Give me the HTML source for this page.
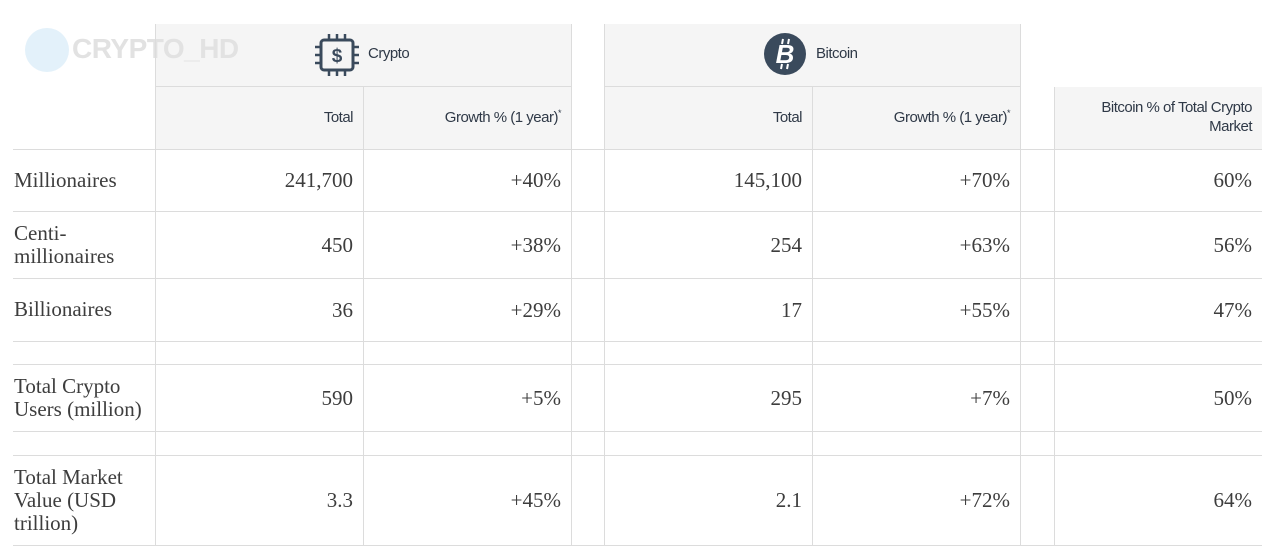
<!DOCTYPE html>
<html><head><meta charset="utf-8"><style>
html,body{margin:0;padding:0;background:#fff;width:1280px;height:553px;overflow:hidden;position:relative}
.a{position:absolute;box-sizing:border-box}
.hl{position:absolute;height:1px;background:#dcdcdc}
.vl{position:absolute;width:1px;background:#dcdcdc}
.hd{font-family:"Liberation Sans",sans-serif;font-size:15px;color:#2f3947;letter-spacing:-0.5px;text-align:right}
.sv{font-family:"Liberation Serif",serif;font-size:21px;color:#3d3d3d;text-align:right}
.lb{font-family:"Liberation Serif",serif;font-size:21px;color:#3d3d3d;line-height:23px}
.st{font-size:9px;position:relative;top:-6px;line-height:0}
</style></head><body>
<div id="root"></div>
<script>
const rowLabels=["Millionaires","Centi-<br>millionaires","Billionaires","","Total Crypto<br>Users (million)","","Total Market<br>Value (USD<br>trillion)"];
const cryptoTotal=["241,700","450","36","","590","","3.3"];
const cryptoGrowth=["+40%","+38%","+29%","","+5%","","+45%"];
const btcTotal=["145,100","254","17","","295","","2.1"];
const btcGrowth=["+70%","+63%","+55%","","+7%","","+72%"];
const btcShare=["60%","56%","47%","","50%","","64%"];
const rowY=[149,211,278,341,364,431,455,545];
const cols=[[155,363],[363,571],[604,812],[812,1020],[1054,1262]];
const root=document.getElementById('root');
function mk(cls,style,html){const d=document.createElement('div');d.className=cls;d.style.cssText=style;if(html!==undefined)d.innerHTML=html;root.appendChild(d);return d;}
let e;
e=mk('a','left:155px;top:24px;width:416px;height:125px;background:#f5f5f5');


e=mk('a','left:604px;top:24px;width:416px;height:125px;background:#f5f5f5');


e=mk('a','left:1054px;top:87px;width:208px;height:62px;background:#f5f5f5');


e=mk('a','left:25px;top:28px;width:44px;height:44px;border-radius:50%;background:#e3f1fa');


e=mk('a','left:72px;top:33px;font-family:"Liberation Sans",sans-serif;font-weight:bold;font-size:28px;color:#e2e2e2;letter-spacing:-0.5px','CRYPTO_HD');


e=mk('a','left:315px;top:34px;width:44px;height:42px','<svg width="44" height="42" viewBox="0 0 44 42"><rect x="6" y="6" width="32" height="30" rx="3" fill="none" stroke="#3a4a5c" stroke-width="3"/><g stroke="#3a4a5c" stroke-width="2.5"><line x1="14" y1="0" x2="14" y2="6"/><line x1="22" y1="0" x2="22" y2="6"/><line x1="30" y1="0" x2="30" y2="6"/><line x1="14" y1="36" x2="14" y2="42"/><line x1="22" y1="36" x2="22" y2="42"/><line x1="30" y1="36" x2="30" y2="42"/><line x1="0" y1="13" x2="6" y2="13"/><line x1="0" y1="21" x2="6" y2="21"/><line x1="0" y1="29" x2="6" y2="29"/><line x1="38" y1="13" x2="44" y2="13"/><line x1="38" y1="21" x2="44" y2="21"/><line x1="38" y1="29" x2="44" y2="29"/></g><text x="22" y="28" text-anchor="middle" font-family="Liberation Sans" font-weight="bold" font-size="19" fill="#3a4a5c">$</text></svg>');


e=mk('a hd','left:368px;top:45px;text-align:left','Crypto');


e=mk('a','left:764px;top:33px;width:42px;height:42px','<svg width="42" height="42"><circle cx="21" cy="21" r="21" fill="#3a4a5c"/><text x="21" y="30" text-anchor="middle" font-family="Liberation Sans" font-weight="bold" font-style="italic" font-size="26" fill="#fff">B</text><g stroke="#fff" stroke-width="2"><line x1="19" y1="6" x2="18" y2="11"/><line x1="25" y1="6" x2="24" y2="11"/><line x1="18" y1="31" x2="17" y2="36"/><line x1="24" y1="31" x2="23" y2="36"/></g></svg>');


e=mk('a hd','left:816px;top:45px;text-align:left','Bitcoin');


const subHeads=["Total","Growth % (1 year)<span class=\"st\">*</span>","Total","Growth % (1 year)<span class=\"st\">*</span>","Bitcoin % of Total Crypto<br>Market"];
const subNames=["crypto-total-header","crypto-growth-header","bitcoin-total-header","bitcoin-growth-header","bitcoin-share-header"];
subHeads.forEach((t,i)=>{
  const c=cols[i];
  const top=i===4?98:108;
  const s=mk('a hd','left:'+c[0]+'px;top:'+top+'px;width:'+(c[1]-c[0]-10)+'px;line-height:19px',t);
  
  
});
[[155,24,125],[571,24,125],[604,24,125],[1020,24,125],[363,86,63],[812,86,63],[1054,87,62]].forEach(v=>{
  const l=mk('vl','left:'+v[0]+'px;top:'+v[1]+'px;height:'+v[2]+'px');
  
  
});
let l=mk('hl','left:155px;top:86px;width:416px');
l=mk('hl','left:604px;top:86px;width:416px');
rowY.forEach(y=>{
  const h=mk('hl','left:13px;top:'+y+'px;width:1249px');
  
  
});
[155,363,571,604,812,1020,1054].forEach(x=>{
  const v=mk('vl','left:'+x+'px;top:149px;height:396px');
  
  
});
const series=[cryptoTotal,cryptoGrowth,btcTotal,btcGrowth,btcShare];
const sNames=["crypto-total","crypto-growth","bitcoin-total","bitcoin-growth","bitcoin-share"];
rowLabels.forEach((lab,r)=>{
  const y0=rowY[r],y1=rowY[r+1],mid=(y0+y1)/2;
  if(lab){
    const n=lab.split('<br>').length;
    const d=mk('a lb','left:14px;top:'+(mid-n*23/2)+'px',lab);
    
    
  }
  series.forEach((s,i)=>{
    if(!s[r])return;
    const c=cols[i];
    const d=mk('a sv','left:'+c[0]+'px;top:'+(mid-13)+'px;width:'+(c[1]-c[0]-10)+'px;line-height:26px',s[r]);
    
    
  });
});
</script>
</body></html>
